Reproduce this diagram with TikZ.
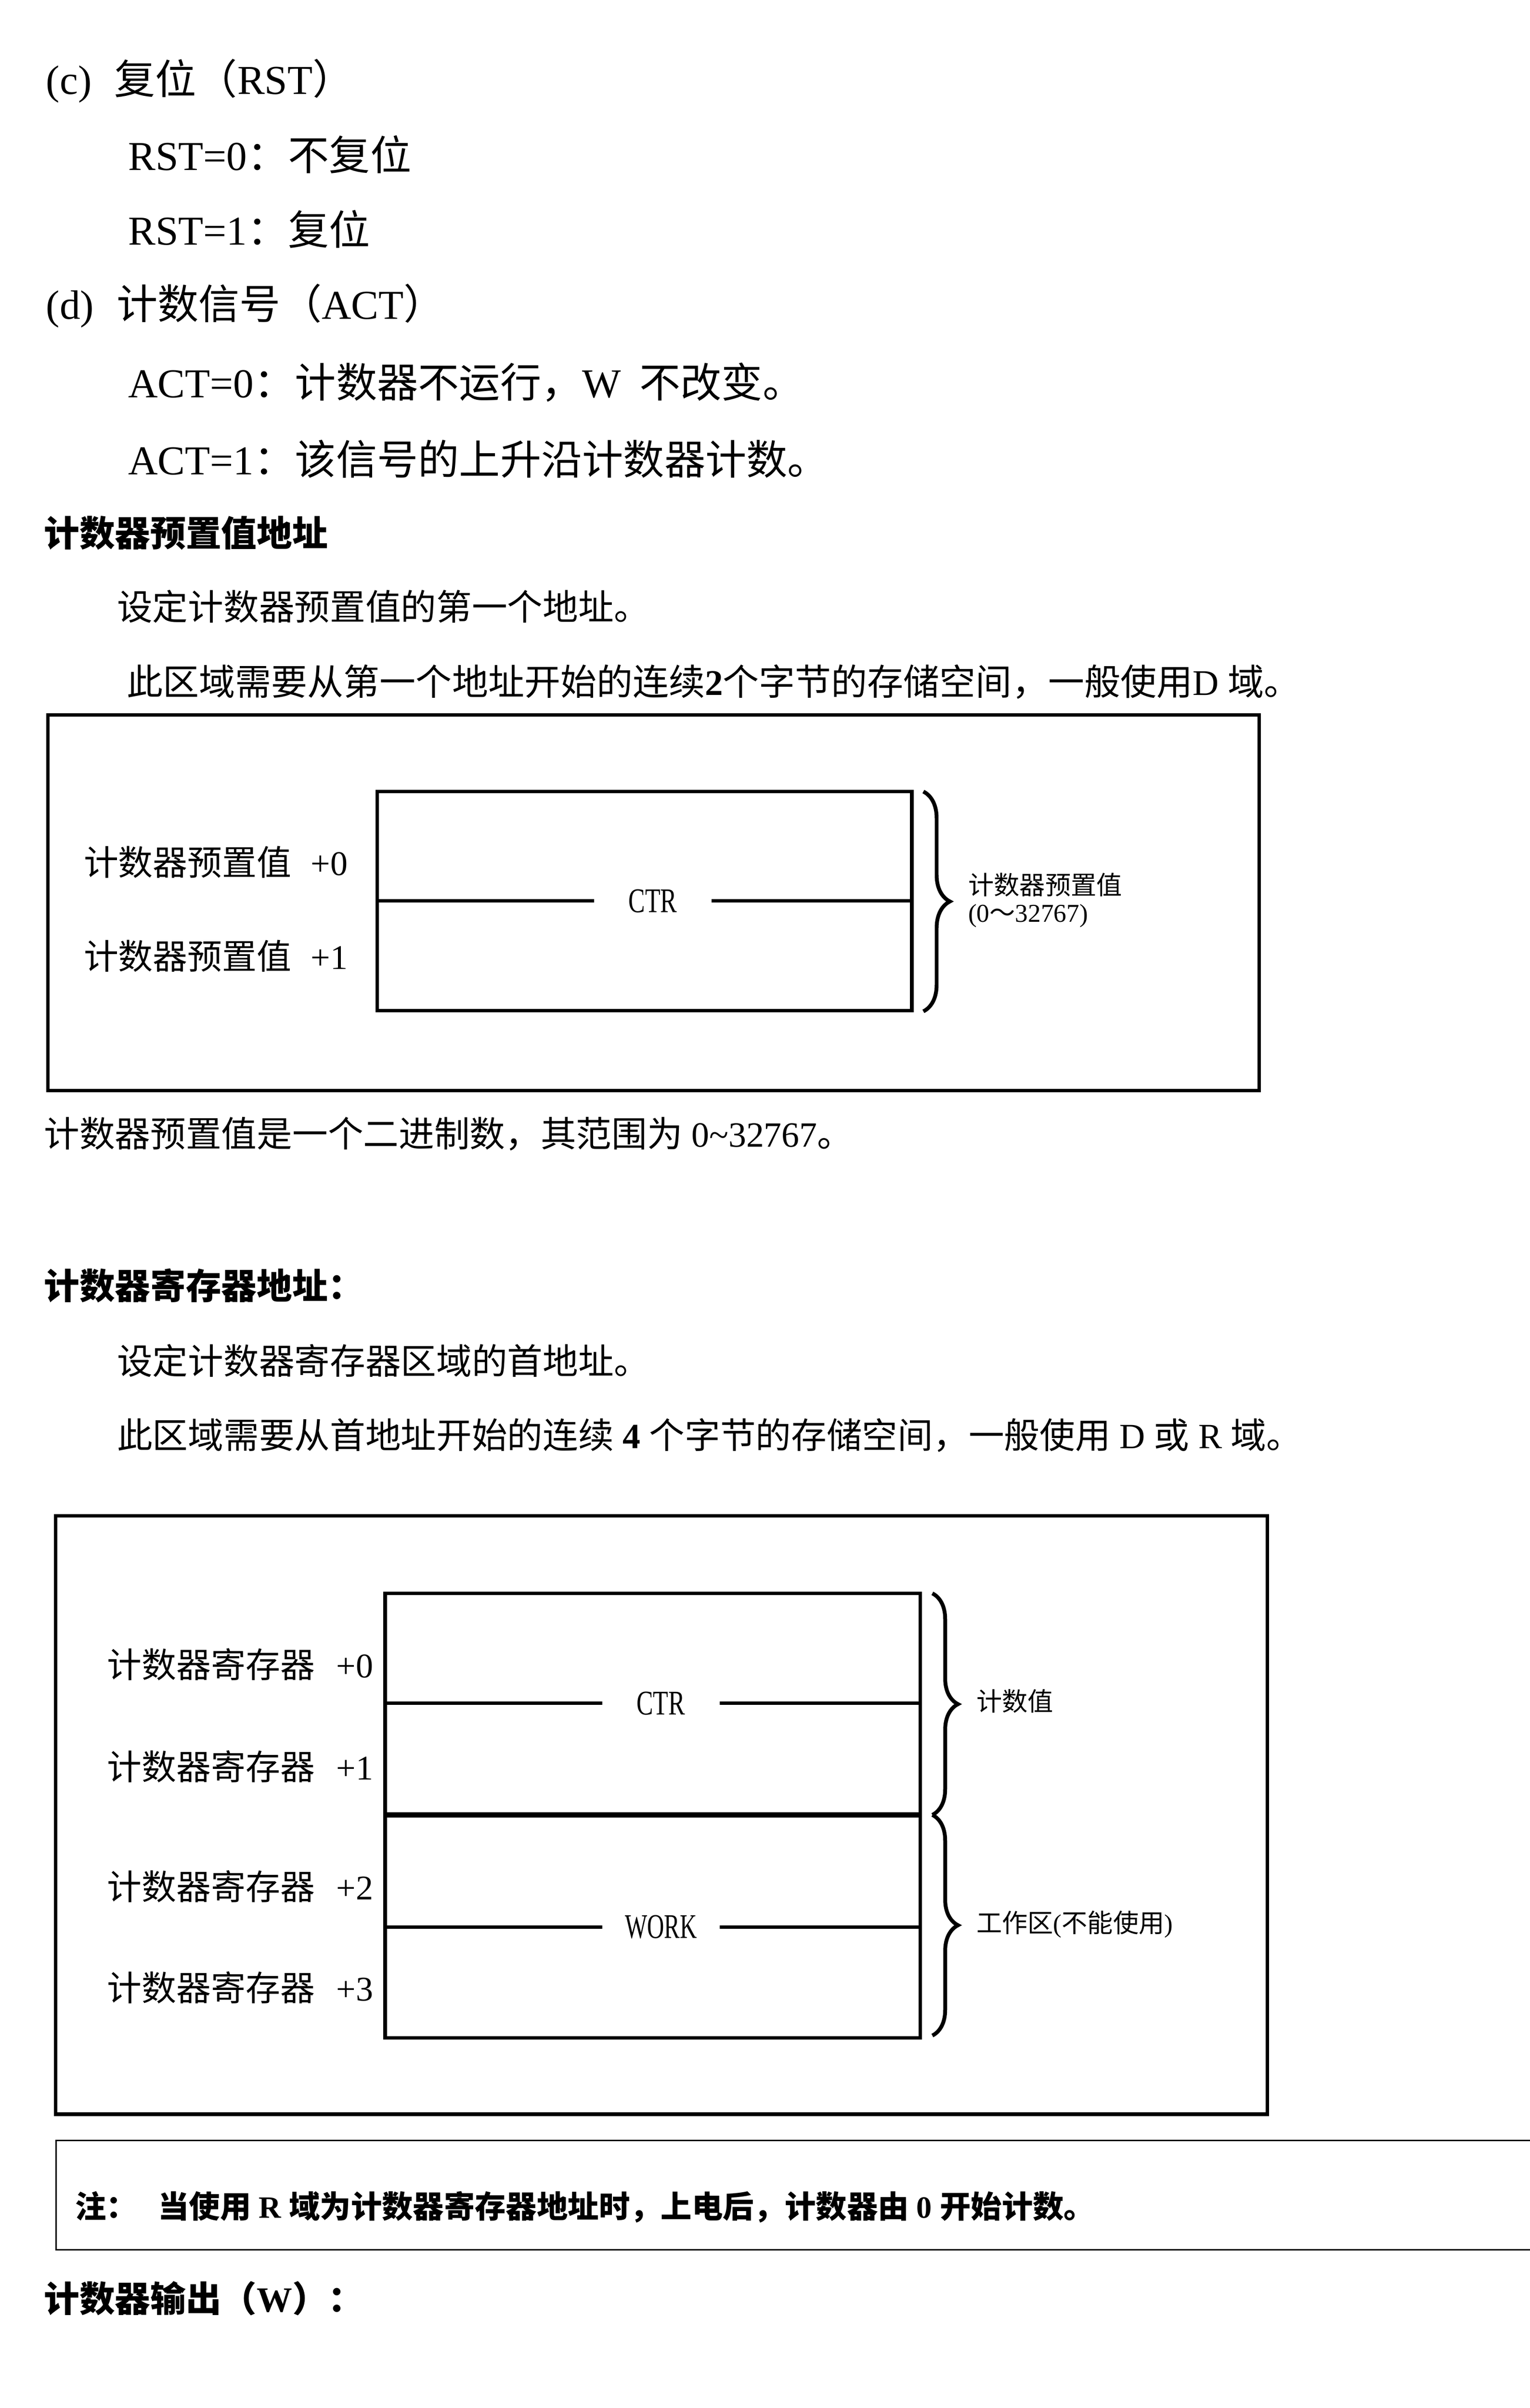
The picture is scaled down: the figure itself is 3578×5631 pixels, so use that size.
\documentclass[tikz,border=0pt]{standalone}
\usepackage{fontspec}
\usepackage{graphicx}
\setmainfont{Liberation Serif}
\newfontfamily\cjkfont{Noto Sans CJK SC}
\newcommand\zht[1]{{\cjkfont #1}}
\usetikzlibrary{decorations.pathreplacing}
\tikzset{
  txt/.style={anchor=west, inner sep=0pt, outer sep=0pt},
  big/.style={txt, font=\fontsize{19.2pt}{22pt}\selectfont},
  head/.style={txt, font=\fontsize{16.6pt}{20pt}\selectfont\bfseries},
  body/.style={txt, font=\fontsize{16.6pt}{20pt}\selectfont},
  bodyb/.style={txt, font=\fontsize{16.9pt}{20pt}\selectfont},
  lbl/.style={txt, font=\fontsize{16.2pt}{20pt}\selectfont},
  small/.style={txt, font=\fontsize{12pt}{14pt}\selectfont},
  notetxt/.style={txt, font=\fontsize{14.5pt}{17pt}\selectfont\bfseries},
  outerbox/.style={draw, line width=1.6pt},
  cell/.style={draw, line width=1.6pt},
  divider/.style={draw, line width=2.6pt},
  notebox/.style={draw, line width=0.6pt},
  midtext/.style={inner sep=0pt, outer sep=0pt, minimum width=55pt, font=\fontsize{16.2pt}{20pt}\selectfont},
  brc/.style={decorate, decoration={brace, amplitude=12.4pt}, line width=1.8pt},
  brcb/.style={decorate, decoration={brace, amplitude=12pt}, line width=1.8pt},
}
\begin{document}
\begin{tikzpicture}[x=0.2pt,y=-0.2pt]
\useasboundingbox (0,0) rectangle (3578,5631);
\fill[white] (0,0) rectangle (3578,5631);

% ---------- top text ----------
\node[big] (c)  at (108,189)  {(c)\hspace{0.55em}\zht{复位（}RST\zht{）}};
\node[big] (r0) at (300,361)  {RST=0\zht{：不复位}};
\node[big] (r1) at (300,536)  {RST=1\zht{：复位}};
\node[big] (d)  at (108,715)  {(d)\hspace{0.55em}\zht{计数信号（}ACT\zht{）}};
\node[big] (a0) at (300,894)  {ACT=0\zht{：计数器不运行，}W\hspace{0.45em}\zht{不改变。}};
\node[big] (a1) at (300,1073) {ACT=1\zht{：该信号的上升沿计数器计数。}};

\node[head]  (h1) at (103,1246) {\zht{计数器预置值地址}};
\node[body]  (s1) at (274,1418) {\zht{设定计数器预置值的第一个地址。}};
\node[bodyb] (s2) at (297,1594) {\zht{此区域需要从第一个地址开始的连续}\textbf{2}\zht{个字节的存储空间，一般使用}D \zht{域。}};

% ---------- box 1 ----------
\draw[outerbox] (112,1672) rectangle (2946,2550);
\draw[cell] (882,1851) rectangle (2133,2363);
\coordinate (i1l) at (882,2107);
\coordinate (i1r) at (2133,2107);
\node[midtext] (ctr1) at (1527,2107) {\scalebox{0.72}[1]{CTR}};
\draw[cell] (i1l) -- (ctr1.west);
\draw[cell] (ctr1.east) -- (i1r);
\node[lbl] (p0) at (196,2016) {\zht{计数器预置值}\hspace{9pt}+0};
\node[lbl] (p1) at (196,2236) {\zht{计数器预置值}\hspace{9pt}+1};
\coordinate (b1t) at (2160,1851);
\coordinate (b1b) at (2160,2365);
\draw[brc] (b1t) -- (b1b);
\node[small] (rl1) at (2265,2069) {\zht{计数器预置值}};
\node[small] (rl2) at (2265,2142) {(0\zht{～}32767)};

\node[body] (cap1) at (103,2652) {\zht{计数器预置值是一个二进制数，其范围为} 0\textasciitilde32767\zht{。}};

% ---------- second section ----------
\node[head]  (h2) at (103,3006) {\zht{计数器寄存器地址：}};
\node[body]  (s3) at (274,3182) {\zht{设定计数器寄存器区域的首地址。}};
\node[body]  (s4) at (274,3356) {\zht{此区域需要从首地址开始的连续} \textbf{4} \zht{个字节的存储空间，一般使用} D \zht{或} R \zht{域。}};

% ---------- box 2 ----------
\draw[outerbox] (130,3545) rectangle (2965,4944);
\draw[cell] (901,3726) rectangle (2153,4765);
\coordinate (d2l) at (901,4244);
\coordinate (d2r) at (2153,4244);
\draw[divider] (d2l) -- (d2r);
\coordinate (c2l) at (901,3983);
\coordinate (c2r) at (2153,3983);
\node[midtext] (ctr2) at (1546,3983) {\scalebox{0.72}[1]{CTR}};
\draw[cell] (c2l) -- (ctr2.west);
\draw[cell] (ctr2.east) -- (c2r);
\coordinate (w2l) at (901,4506);
\coordinate (w2r) at (2153,4506);
\node[midtext] (work2) at (1546,4506) {\scalebox{0.68}[1]{WORK}};
\draw[cell] (w2l) -- (work2.west);
\draw[cell] (work2.east) -- (w2r);
\node[lbl] (q0) at (251,3892) {\zht{计数器寄存器}\hspace{10pt}+0};
\node[lbl] (q1) at (251,4131) {\zht{计数器寄存器}\hspace{10pt}+1};
\node[lbl] (q2) at (251,4411) {\zht{计数器寄存器}\hspace{10pt}+2};
\node[lbl] (q3) at (251,4648) {\zht{计数器寄存器}\hspace{10pt}+3};
\coordinate (b2t) at (2181,3726);
\coordinate (b2m) at (2181,4244);
\coordinate (b2b) at (2181,4760);
\draw[brcb] (b2t) -- (b2m);
\draw[brcb] (b2m) -- (b2b);
\node[small] (rl3) at (2284,3978) {\zht{计数值}};
\node[small] (rl4) at (2284,4500) {\zht{工作区}(\zht{不能使用})};

% ---------- note ----------
\coordinate (n1) at (3600,5005);
\coordinate (n2) at (131,5005);
\coordinate (n3) at (131,5261);
\coordinate (n4) at (3600,5261);
\draw[notebox] (n1) -- (n2) -- (n3) -- (n4);
\node[notetxt] (note) at (176,5161) {\zht{注：}\hspace{9.8pt}\zht{当使用} R \zht{域为计数器寄存器地址时，上电后，计数器由} 0 \zht{开始计数。}};

\node[head] (h3) at (103,5375) {\zht{计数器输出（}W\zht{）：}};
\end{tikzpicture}
\end{document}
